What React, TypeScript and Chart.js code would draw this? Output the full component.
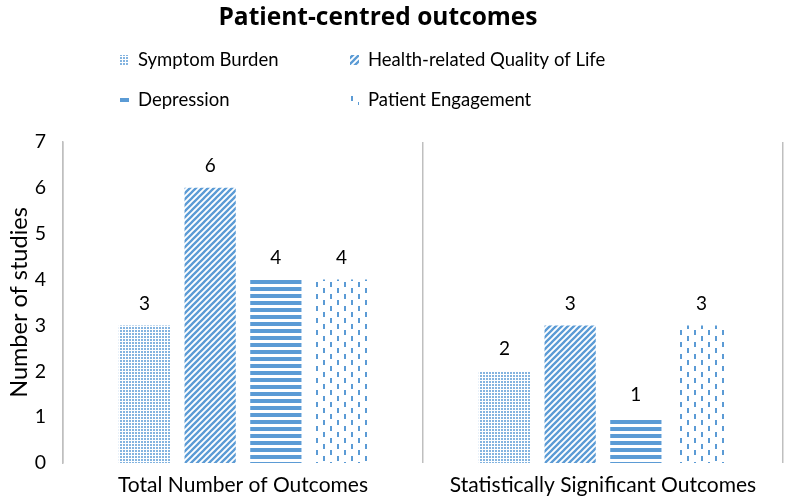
import React, { useEffect, useRef } from 'react';
import { Chart, registerables } from 'chart.js';

Chart.register(...registerables);

const categories = ['Total Number of Outcomes', 'Statistically Significant Outcomes'];
const seriesNames = ['Symptom Burden', 'Health-related Quality of Life', 'Depression', 'Patient Engagement'];
const symptomBurden = [3, 2];
const healthQoL = [6, 3];
const depression = [4, 1];
const patientEngagement = [4, 3];
const yMin = 0;
const yMax = 7;
const titleText = 'Patient-centred outcomes';
const yTitle = 'Number of studies';

const BLUE = '#5B9BD5';
const GRID = '#BFBFBF';
const FONT = 'Lato, "Open Sans", sans-serif';

function makePattern(kind: string): CanvasPattern | string {
  const c = document.createElement('canvas');
  let ctx: CanvasRenderingContext2D | null = null;
  if (kind === 'dots') {
    c.width = 3; c.height = 3;
    ctx = c.getContext('2d');
    if (!ctx) return BLUE;
    ctx.fillStyle = 'rgba(91,155,213,0.75)';
    ctx.fillRect(0, 0, 2, 2);
  } else if (kind === 'diag') {
    c.width = 6; c.height = 6;
    ctx = c.getContext('2d');
    if (!ctx) return BLUE;
    ctx.strokeStyle = BLUE;
    ctx.lineWidth = 2.3;
    ctx.beginPath();
    ctx.moveTo(-1, 7); ctx.lineTo(7, -1);
    ctx.moveTo(-4, 4); ctx.lineTo(4, -4);
    ctx.moveTo(2, 10); ctx.lineTo(10, 2);
    ctx.stroke();
  } else if (kind === 'horiz') {
    c.width = 4; c.height = 7;
    ctx = c.getContext('2d');
    if (!ctx) return BLUE;
    ctx.fillStyle = BLUE;
    ctx.fillRect(0, 0, 4, 4);
  } else {
    c.width = 14; c.height = 12;
    ctx = c.getContext('2d');
    if (!ctx) return BLUE;
    ctx.fillStyle = BLUE;
    ctx.fillRect(1, 0, 2, 5);
    ctx.fillRect(8, 6, 2, 5);
  }
  const p = ctx!.createPattern(c, 'repeat');
  return p || BLUE;
}

export default function App() {
  const ref = useRef<HTMLCanvasElement | null>(null);

  useEffect(() => {
    if (!ref.current) return;
    const patterns = [makePattern('dots'), makePattern('diag'), makePattern('horiz'), makePattern('dash')];
    const values = [symptomBurden, healthQoL, depression, patientEngagement];

    const valueLabels = {
      id: 'valueLabels',
      afterDatasetsDraw(chart: any) {
        const ctx = chart.ctx;
        ctx.save();
        ctx.font = `19px ${FONT}`;
        ctx.fillStyle = '#000';
        ctx.textAlign = 'center';
        ctx.textBaseline = 'middle';
        chart.data.datasets.forEach((ds: any, i: number) => {
          const meta = chart.getDatasetMeta(i);
          meta.data.forEach((bar: any, j: number) => {
            ctx.fillText(String(ds.data[j]), bar.x, bar.y - 22);
          });
        });
        ctx.restore();
      },
    };

    const titleAndLegend = {
      id: 'titleAndLegend',
      afterDraw(chart: any) {
        const ctx = chart.ctx;
        ctx.save();
        ctx.font = `bold 24.5px "Open Sans", Lato, sans-serif`;
        ctx.fillStyle = '#000';
        ctx.textAlign = 'center';
        ctx.textBaseline = 'middle';
        ctx.fillText(titleText, 378, 18);

        const cols = [120, 350];
        const rows = [60, 100];
        ctx.font = `18.5px ${FONT}`;
        ctx.textAlign = 'left';
        seriesNames.forEach((name, i) => {
          const x = cols[i % 2];
          const y = rows[Math.floor(i / 2)];
          ctx.fillStyle = patterns[i];
          ctx.fillRect(x, y - 5, 9, 10);
          ctx.fillStyle = '#000';
          ctx.fillText(name, x + 18, y);
        });
        ctx.restore();
      },
    };

    const chart = new Chart(ref.current, {
      type: 'bar',
      data: {
        labels: categories,
        datasets: seriesNames.map((name, i) => ({
          label: name,
          data: values[i],
          backgroundColor: patterns[i] as any,
          borderWidth: 0,
          categoryPercentage: 0.73,
          barPercentage: 0.78,
        })),
      },
      options: {
        animation: false,
        responsive: true,
        maintainAspectRatio: false,
        layout: { padding: { left: 5, right: 3, top: 142, bottom: 0 } },
        plugins: {
          legend: { display: false },
          tooltip: { enabled: false },
          title: { display: false },
        },
        scales: {
          x: {
            grid: { display: true, offset: true, color: GRID, lineWidth: 1.5, drawTicks: false },
            border: { display: false },
            ticks: { color: '#000', font: { family: FONT, size: 21 }, padding: 10 },
            afterFit(scale: any) { scale.height = 36; },
          },
          y: {
            min: yMin,
            max: yMax,
            grid: { display: false },
            border: { display: true, color: GRID, width: 1.5 },
            ticks: { stepSize: 1, color: '#000', font: { family: FONT, size: 19.5 }, padding: 9 },
            title: { display: true, text: yTitle, color: '#000', font: { family: FONT, size: 23.5 }, padding: 0 },
            afterFit(scale: any) { scale.width = 58; },
          },
        },
      },
      plugins: [valueLabels, titleAndLegend],
    });
    return () => chart.destroy();
  }, []);

  return (
    <div style={{ position: 'fixed', left: 0, top: 0, width: 786, height: 499, background: '#fff' }}>
      <canvas ref={ref} />
    </div>
  );
}
